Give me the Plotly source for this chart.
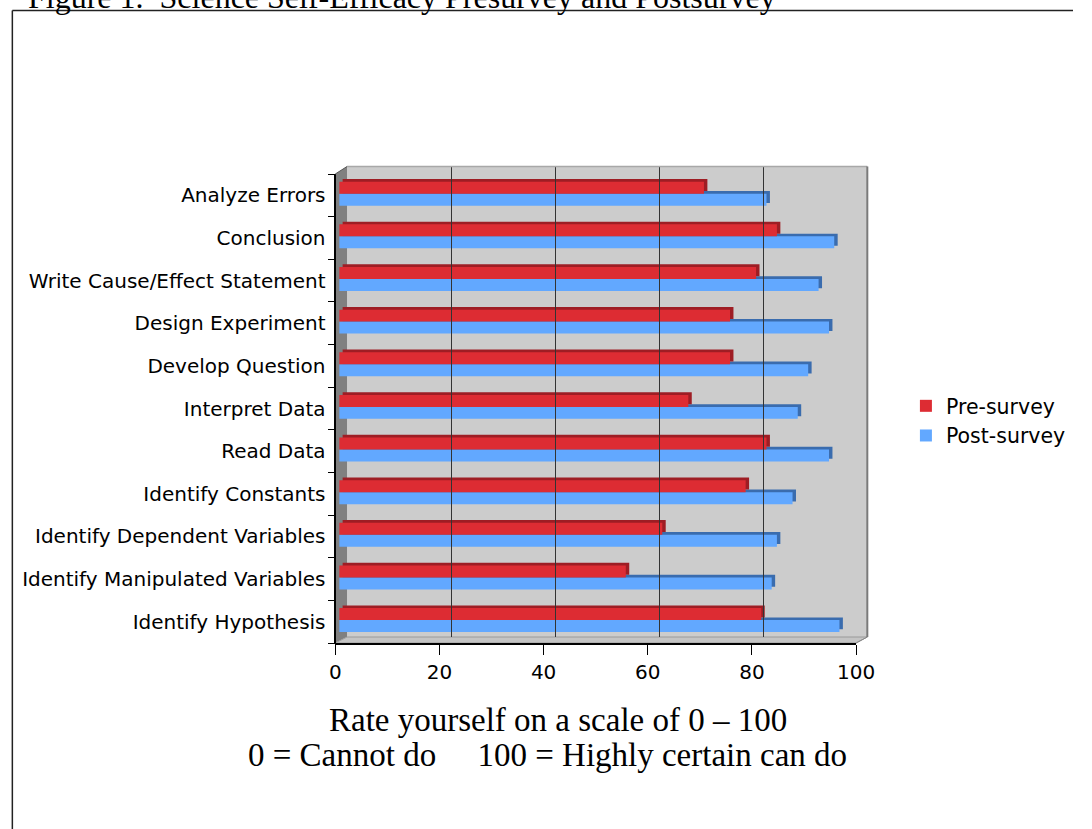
import plotly.graph_objects as go

W, H = 1092, 829

# ---- data (top-to-bottom as shown) ----
categories = [
    "Analyze Errors",
    "Conclusion",
    "Write Cause/Effect Statement",
    "Design Experiment",
    "Develop Question",
    "Interpret Data",
    "Read Data",
    "Identify Constants",
    "Identify Dependent Variables",
    "Identify Manipulated Variables",
    "Identify Hypothesis",
]
pre_survey = [70, 84, 80, 75, 75, 67, 82, 78, 62, 55, 81]
post_survey = [82, 95, 92, 94, 90, 88, 94, 87, 84, 83, 96]
x_ticks = [0, 20, 40, 60, 80, 100]

# plot bottom-to-top
cats = categories[::-1]
pre = pre_survey[::-1]
post = post_survey[::-1]


def px(x):
    return x / W


def py(y):
    return 1 - y / H


RED = "#DD2C33"
RED_DARK = "#9E1D24"
BLUE = "#62A8FF"
BLUE_DARK = "#3A6CAE"
DEPTH_X = 0.66
DEPTH_Y = 0.063
BAR_W = 0.281
PRE_OFF = 0.038
POST_OFF = -0.243

fig = go.Figure()

# depth (3D side faces) for post-survey
fig.add_trace(go.Bar(
    y=cats, x=post, base=[DEPTH_X] * len(post), orientation="h",
    offset=POST_OFF + DEPTH_Y, width=BAR_W,
    marker=dict(color=BLUE_DARK, line=dict(width=0)),
    showlegend=False, hoverinfo="skip", xaxis="x", yaxis="y",
))
fig.add_trace(go.Bar(
    y=cats, x=post, orientation="h", name="Post-survey",
    offset=POST_OFF, width=BAR_W,
    marker=dict(color=BLUE, line=dict(width=0)),
    legendrank=2, xaxis="x", yaxis="y",
))
fig.add_trace(go.Bar(
    y=cats, x=pre, base=[DEPTH_X] * len(pre), orientation="h",
    offset=PRE_OFF + DEPTH_Y, width=BAR_W,
    marker=dict(color=RED_DARK, line=dict(width=0)),
    showlegend=False, hoverinfo="skip", xaxis="x", yaxis="y",
))
fig.add_trace(go.Bar(
    y=cats, x=pre, orientation="h", name="Pre-survey",
    offset=PRE_OFF, width=BAR_W,
    marker=dict(color=RED, line=dict(width=0)),
    legendrank=1, xaxis="x", yaxis="y",
))
# invisible helpers so the extra axes are drawn
fig.add_trace(go.Scatter(x=[0, 100], y=[0, 1], mode="markers", marker=dict(opacity=0),
                         showlegend=False, hoverinfo="skip", xaxis="x2", yaxis="y2"))
fig.add_trace(go.Scatter(x=[0, 100], y=[cats[0], cats[0]], mode="markers", marker=dict(opacity=0),
                         showlegend=False, hoverinfo="skip", xaxis="x3", yaxis="y"))

FRONT_TOP, FRONT_BOT = 174, 643
BACK_TOP, BACK_BOT = 166.5, 637
FRONT_L, FRONT_R = 337, 870
BACK_L, BACK_R = 349, 881.5

SANS = "DejaVu Sans"
tickfont = dict(family=SANS, size=20, color="#000")

fig.update_layout(
    width=W, height=H,
    margin=dict(l=0, r=0, t=0, b=0),
    paper_bgcolor="white",
    plot_bgcolor="rgba(0,0,0,0)",
    barmode="overlay",
    xaxis=dict(domain=[px(341), px(874.3)], range=[0, 100], visible=False,
               anchor="y", fixedrange=True),
    yaxis=dict(domain=[py(FRONT_BOT), py(FRONT_TOP)], type="category",
               categoryorder="array", categoryarray=cats,
               range=[-0.5, len(cats) - 0.5],
               anchor="free", position=px(FRONT_L),
               showline=True, linecolor="#000", linewidth=1.5,
               ticks="outside", ticklen=7, tickwidth=1.2, tickcolor="#000",
               tickson="boundaries", showgrid=False, zeroline=False,
               tickfont=tickfont, ticklabelstandoff=5),
    xaxis2=dict(domain=[px(BACK_L), px(BACK_R)], range=[0, 100], anchor="y2",
                showgrid=True, gridcolor="#333", gridwidth=1.3, dtick=20, tick0=0,
                showticklabels=False, ticks="", zeroline=False, showline=False),
    yaxis2=dict(domain=[py(BACK_BOT), py(BACK_TOP)], range=[0, 1], anchor="x2",
                visible=False),
    xaxis3=dict(domain=[px(FRONT_L), px(FRONT_R)], range=[0, 100], anchor="y",
                tickvals=x_ticks, ticktext=[str(v) for v in x_ticks],
                showline=True, linecolor="#000", linewidth=1.5,
                ticks="outside", ticklen=10, tickwidth=1.2, tickcolor="#000",
                showgrid=False, zeroline=False, tickfont=tickfont),
    legend=dict(x=px(921), y=py(421), xanchor="left", yanchor="middle",
                font=dict(family=SANS, size=20.5, color="#000"),
                bgcolor="rgba(0,0,0,0)", traceorder="normal"),
    showlegend=True,
)

shapes = [
    # back wall
    dict(type="rect", xref="paper", yref="paper", layer="below",
         x0=px(BACK_L), x1=px(BACK_R), y0=py(BACK_BOT), y1=py(BACK_TOP),
         fillcolor="#CCCCCC", line=dict(width=0)),
    # left wall
    dict(type="path", xref="paper", yref="paper", layer="below",
         path=f"M{px(FRONT_L)},{py(FRONT_TOP)} L{px(BACK_L)},{py(BACK_TOP)} "
              f"L{px(BACK_L)},{py(BACK_BOT)} L{px(FRONT_L)},{py(FRONT_BOT)} Z",
         fillcolor="#808080", line=dict(width=0)),
    # floor
    dict(type="path", xref="paper", yref="paper", layer="below",
         path=f"M{px(FRONT_L)},{py(FRONT_BOT)} L{px(BACK_L)},{py(BACK_BOT)} "
              f"L{px(BACK_R)},{py(BACK_BOT)} L{px(FRONT_R)},{py(FRONT_BOT)} Z",
         fillcolor="#C4C4C4", line=dict(color="#9A9A9A", width=1)),
    # wall top edge
    dict(type="line", xref="paper", yref="paper", layer="above",
         x0=px(BACK_L), x1=px(BACK_R), y0=py(BACK_TOP), y1=py(BACK_TOP),
         line=dict(color="#A8A8A8", width=1.5)),
    # wall right edge
    dict(type="line", xref="paper", yref="paper", layer="above",
         x0=px(BACK_R), x1=px(BACK_R), y0=py(BACK_TOP), y1=py(BACK_BOT),
         line=dict(color="#7A7A7A", width=2)),
    # corner slants
    dict(type="line", xref="paper", yref="paper", layer="above",
         x0=px(FRONT_L), x1=px(BACK_L), y0=py(FRONT_TOP), y1=py(BACK_TOP),
         line=dict(color="#555", width=1)),
    dict(type="line", xref="paper", yref="paper", layer="above",
         x0=px(FRONT_R), x1=px(BACK_R), y0=py(FRONT_BOT), y1=py(BACK_BOT),
         line=dict(color="#888", width=1)),
    # page frame
    dict(type="line", xref="paper", yref="paper",
         x0=px(6.5), x1=1, y0=py(10.5), y1=py(10.5),
         line=dict(color="#222", width=1.5)),
    dict(type="line", xref="paper", yref="paper",
         x0=px(6.5), x1=px(6.5), y0=py(10.5), y1=0,
         line=dict(color="#222", width=1.5)),
]
fig.update_layout(shapes=shapes)

serif = "Liberation Serif"
fig.add_annotation(text="Figure 1.  Science Self-Efficacy Presurvey and Postsurvey",
                   xref="paper", yref="paper", x=px(20), y=py(-3),
                   xanchor="left", yanchor="middle", showarrow=False,
                   font=dict(family=serif, size=32, color="#000"))
fig.add_annotation(text="Rate yourself on a scale of 0 \u2013 100",
                   xref="paper", yref="paper", x=px(565), y=py(720),
                   xanchor="center", yanchor="middle", showarrow=False,
                   font=dict(family=serif, size=33, color="#000"))
fig.add_annotation(text="0 = Cannot do" + "\u00a0" * 5 + "100 = Highly certain can do",
                   xref="paper", yref="paper", x=px(554), y=py(755),
                   xanchor="center", yanchor="middle", showarrow=False,
                   font=dict(family=serif, size=33, color="#000"))

fig.write_html("out.html")
